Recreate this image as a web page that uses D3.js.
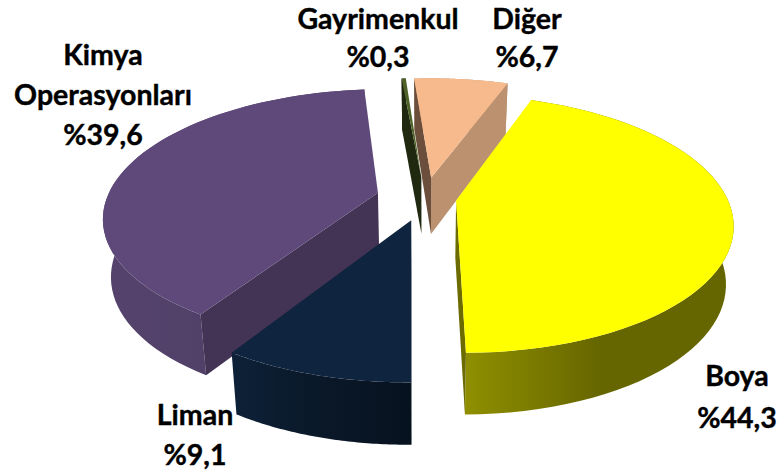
<!DOCTYPE html>
<meta charset="utf-8">
<script src="https://d3js.org/d3.v7.min.js"></script>
<style>
  body { margin: 0; background: #fff; }
  text { font-family: Lato, "Open Sans", sans-serif; font-weight: 700; font-size: 28.5px; fill: #000; stroke: #000; stroke-width: 0.4px; }
</style>
<body>
<div id="chart"></div>
<script>
// clockwise from the top edge of the yellow slice
const categories = ["Boya", "Liman", "Kimya Operasyonları", "Gayrimenkul", "Diğer"];
const values = [44.3, 9.1, 39.6, 0.3, 6.7];
const valueLabels = ["%44,3", "%9,1", "%39,6", "%0,3", "%6,7"];

const width = 780, height = 473;
const startDeg = 20;
const explode = [0.116, 0.18, 0.18, 0.17, 0.17];
const perspective = 0.18;   // far side of the pie shrinks, near side grows
const depth = 57;

const topColors = ["#ffff00", "#0f243e", "#5f497a", "#4f6228", "#f6ba8c"];
const cutStart  = ["#6b6b00", "#0a1828", "#433354", "#20280f", "#6b4e3c"];
const cutEnd    = ["#6b6b00", "#0a1828", "#433354", "#20280f", "#bb916f"];
const wallStops = [
  ["#8f8f00", "#666600", "#666600"],
  ["#0d2138", "#0a1828", "#07121f"],
  ["#55436d", "#503f66", "#403152"],
  ["#20280f", "#20280f", "#20280f"],
  ["#bb916f", "#bb916f", "#bb916f"]
];

// plane coords are -1..1 on both axes, scales turn them into pixels
const xScale = d3.scaleLinear().domain([-1, 1]).range([425 - 271, 425 + 271]);
const yScale = d3.scaleLinear().domain([-1, 1]).range([198 + 124, 198 - 124]);

function project(u, v, low) {
  const s = 1 / (1 + perspective * v);
  let x = xScale(u * s), y = yScale(v * s);
  if (low) {
    x = 425 + (x - 425) * 0.975;
    y += depth * (1 - 0.08 * v);
  }
  return [x, y];
}

const pie = d3.pie().sort(null)
  .startAngle(startDeg * Math.PI / 180)
  .endAngle((startDeg + 360) * Math.PI / 180);
const arcs = pie(values);

const svg = d3.select("#chart").append("svg")
  .attr("width", width).attr("height", height);
const defs = svg.append("defs");
const line = d3.line();

const slices = arcs.map((d, i) => {
  const mid = (d.startAngle + d.endAngle) / 2;
  const ou = explode[i] * Math.sin(mid), ov = explode[i] * Math.cos(mid);
  const pt = (a, low) => project(ou + Math.sin(a), ov + Math.cos(a), low);
  const apex = low => project(ou, ov, low);
  const angles = d3.range(0, 61).map(k => d.startAngle + (d.endAngle - d.startAngle) * k / 60);
  return {i, mid, angles, pt, apex, a0: d.startAngle, a1: d.endAngle};
});

// a cut face only shows if the wedge lies above its top edge on screen
function faceVisible(s, a) {
  const A = s.apex(false), R = s.pt(a, false), M = s.pt(s.mid, false);
  const side = p => (R[0] - A[0]) * (p[1] - A[1]) - (R[1] - A[1]) * p[0] + (R[1] - A[1]) * A[0];
  return side(M) * side([A[0], A[1] + 1]) < 0;
}

// back slices first
const order = [4, 3, 2, 0, 1];
order.forEach(i => {
  const s = slices[i];
  const g = svg.append("g");
  const rimTop = s.angles.map(a => s.pt(a, false));
  const rimLow = s.angles.map(a => s.pt(a, true));
  const xs = rimTop.map(p => p[0]);
  const gradId = "wall" + i;
  const grad = defs.append("linearGradient").attr("id", gradId)
    .attr("gradientUnits", "userSpaceOnUse")
    .attr("x1", d3.min(xs)).attr("x2", d3.max(xs)).attr("y1", 0).attr("y2", 0);
  wallStops[i].forEach((c, k) => grad.append("stop").attr("offset", k / 2).attr("stop-color", c));

  // outer wall
  g.append("path").attr("d", line(rimTop.concat(rimLow.slice().reverse())) + "Z")
    .attr("fill", `url(#${gradId})`);
  // cut faces
  [[s.a1, cutEnd[i]], [s.a0, cutStart[i]]].forEach(([a, color]) => {
    if (!faceVisible(s, a)) return;
    g.append("path")
      .attr("d", line([s.apex(false), s.pt(a, false), s.pt(a, true), s.apex(true)]) + "Z")
      .attr("fill", color);
  });
  // top
  g.append("path").attr("d", line([s.apex(false)].concat(rimTop)) + "Z")
    .attr("fill", topColors[i]);
});

// labels, one line per row
const labelLines = [
  ["Boya"], ["Liman"], ["Kimya", "Operasyonları"], ["Gayrimenkul"], ["Diğer"]
];
const labelAnchors = [[737, 386], [195, 425], [103, 65], [378, 29], [527, 29]];
const lineGap = [42, 40, 40, 38, 38];
categories.forEach((c, i) => {
  const rows = labelLines[i].concat(valueLabels[i]);
  const t = svg.append("text").attr("text-anchor", "middle");
  rows.forEach((r, k) => t.append("tspan")
    .attr("x", labelAnchors[i][0])
    .attr("y", labelAnchors[i][1] + k * lineGap[i])
    .text(r));
});
</script>
</body>
